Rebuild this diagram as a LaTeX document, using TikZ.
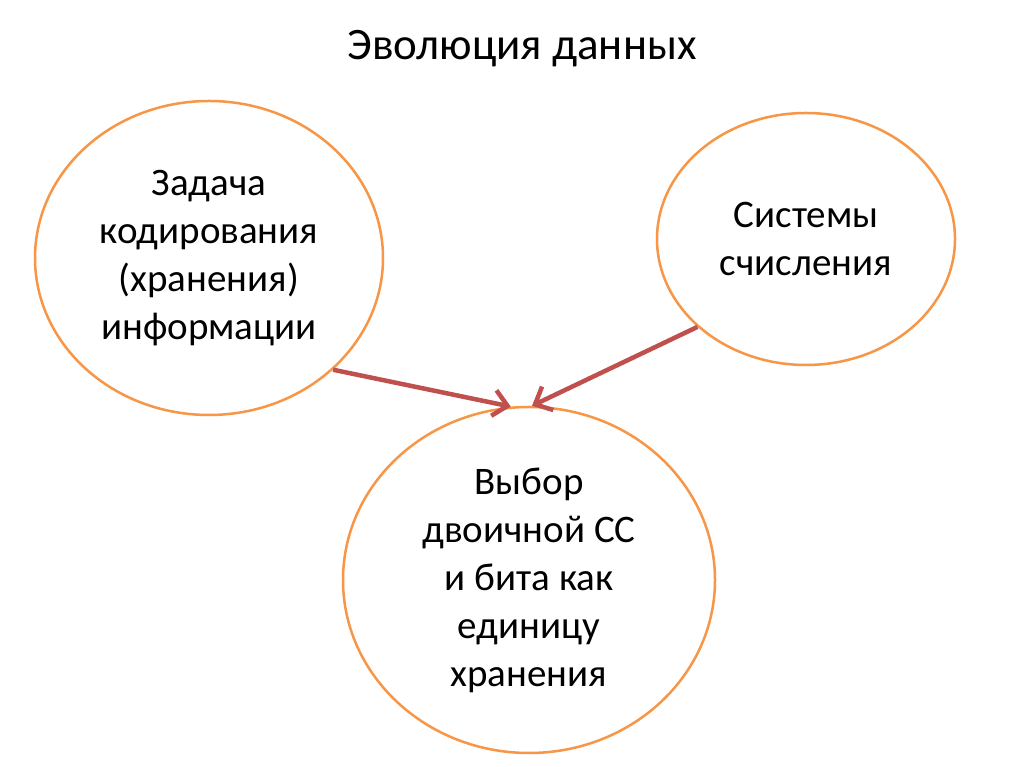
\documentclass[tikz,border=0pt]{standalone}
\usepackage{fontspec}
\setmainfont{Carlito}
\usetikzlibrary{shapes.geometric,arrows.meta}
\definecolor{orangeline}{HTML}{F79646}
\definecolor{arrowred}{HTML}{C0504D}
\tikzset{
  bubble/.style={ellipse, draw=orangeline, line width=2.5pt, inner sep=0pt, align=center,
    font=\fontsize{39}{48}\selectfont},
  link/.style={draw=arrowred, line width=4.5pt, -{Straight Barb[length=14pt,width=26pt,line width=4.5pt]}},
  titletext/.style={font=\fontsize{45}{52}\selectfont, anchor=base}
}
\begin{document}
\begin{tikzpicture}[x=1pt,y=1pt]
\useasboundingbox (0,0) rectangle (1024,767);
\fill[white] (0,0) rectangle (1024,767);
\node[titletext] (title) at (522,707) {Эволюция данных};
\node[bubble, minimum width=348, minimum height=314] (e1) at (209,509)
  {Задача\\кодирования\\(хранения)\\информации};
\node[bubble, minimum width=298, minimum height=252] (e2) at (806,528)
  {Системы\\счисления};
\node[bubble, minimum width=372, minimum height=346] (e3) at (529,187)
  {Выбор\\двоичной СС\\и бита как\\единицу\\хранения};
\draw[link] (e1.-42.6) -- (e3.96.3);
\draw[link] (e2.219.8) -- (e3.89.7);
\end{tikzpicture}
\end{document}
